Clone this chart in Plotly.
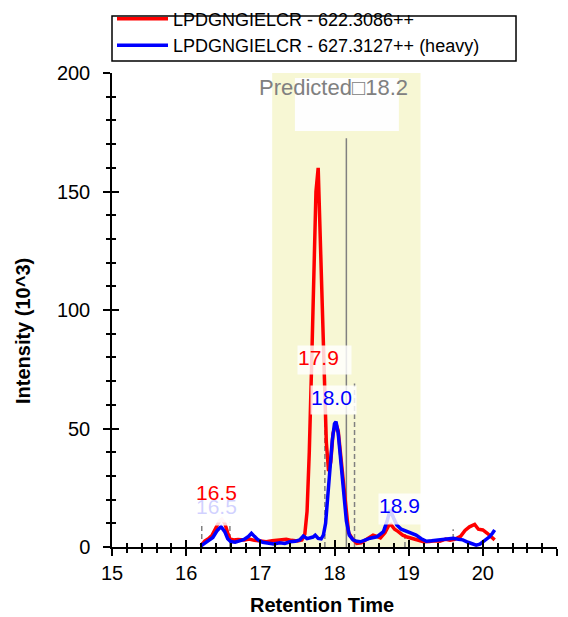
import plotly.graph_objects as go

# ---------------- data ----------------
light_name = "LPDGNGIELCR - 622.3086++"
heavy_name = "LPDGNGIELCR - 627.3127++ (heavy)"

red_x = [16.20, 16.25, 16.30, 16.35, 16.40, 16.45, 16.48, 16.52, 16.56, 16.59,
         16.64, 16.70, 16.78, 16.85, 16.92, 17.00, 17.08, 17.16, 17.25, 17.35,
         17.42, 17.50, 17.56, 17.60, 17.63, 17.66, 17.69, 17.72, 17.75, 17.78,
         17.80, 17.83, 17.86, 17.89, 17.92, 17.95, 17.98, 18.02, 18.05, 18.08,
         18.12, 18.16, 18.19, 18.24, 18.30, 18.36, 18.42, 18.48, 18.52, 18.57,
         18.62, 18.68, 18.73, 18.76, 18.81, 18.86, 18.92, 18.98, 19.05, 19.12,
         19.20, 19.28, 19.35, 19.42, 19.50, 19.56, 19.62, 19.70, 19.76, 19.82,
         19.89, 19.94, 20.00, 20.06, 20.11, 20.16]
red_y = [0.5, 2.5, 3.5, 5.0, 8.0, 11.0, 11.7, 10.0, 6.0, 3.4,
         3.0, 3.2, 3.0, 3.4, 2.8, 2.5, 2.2, 2.6, 3.0, 3.3,
         2.8, 2.5, 3.0, 5.5, 15.0, 40.0, 75.0, 115.0, 150.0, 160.0,
         140.0, 105.0, 72.0, 44.0, 32.0, 36.0, 48.0, 52.0, 49.0, 40.0,
         27.0, 14.0, 6.0, 3.5, 1.5, 1.8, 3.0, 4.0, 5.0, 4.5,
         3.8, 6.0, 9.0, 9.5, 7.5, 6.5, 5.0, 4.2, 3.5, 3.0,
         2.2, 2.3, 2.6, 2.4, 3.3, 2.9, 3.2, 4.5, 7.0, 8.5,
         9.5, 7.5, 7.2, 5.8, 4.5, 3.0]

blue_x = [16.20, 16.25, 16.30, 16.36, 16.42, 16.47, 16.52, 16.56, 16.60, 16.66,
          16.72, 16.78, 16.84, 16.88, 16.92, 16.97, 17.03, 17.10, 17.18, 17.26,
          17.33, 17.40, 17.47, 17.53, 17.58, 17.63, 17.67, 17.71, 17.74, 17.78,
          17.82, 17.85, 17.88, 17.91, 17.94, 17.97, 18.00, 18.02, 18.05, 18.08,
          18.12, 18.16, 18.20, 18.25, 18.30, 18.35, 18.42, 18.48, 18.57, 18.66,
          18.71, 18.75, 18.80, 18.84, 18.90, 18.97, 19.04, 19.10, 19.17, 19.24,
          19.31, 19.38, 19.45, 19.52, 19.60, 19.67, 19.73, 19.80, 19.85, 19.91,
          19.96, 20.00, 20.05, 20.09, 20.13, 20.16]
blue_y = [0.5, 1.5, 2.5, 4.0, 7.0, 8.6, 6.5, 3.5, 2.3, 2.0,
          2.6, 3.2, 4.5, 5.8, 4.5, 3.0, 2.0, 1.5, 1.3, 1.8,
          1.5, 2.2, 2.4, 3.0, 4.6, 3.5, 3.7, 4.2, 5.0, 3.6,
          3.4, 5.0, 10.0, 22.0, 34.0, 45.0, 52.0, 52.9, 48.0, 38.0,
          24.0, 11.0, 5.0, 3.0, 2.4, 2.2, 3.0, 3.7, 4.3, 6.5,
          11.0, 15.6, 12.0, 9.3, 7.5, 6.5, 5.8, 5.0, 3.5, 2.4,
          2.6, 2.8, 3.2, 3.5, 3.7, 3.3, 3.0, 2.0, 1.3, 0.8,
          1.2, 2.2, 3.0, 4.3, 5.8, 7.2]

predicted_rt = 18.16
predicted_window = 1.0
predicted_label = "Predicted\u25a118.2"

# peak boundaries (x, height)
boundary_x = [16.21, 16.59, 17.87, 18.27, 18.95, 19.60]
boundary_h = [11.4, 11.4, 55.0, 69.0, 6.5, 7.5]

# peak labels: text, colour, left x, top y
peak_text = ["16.5", "16.5", "17.9", "18.0", "18.9"]
peak_color = ["blue", "red", "red", "blue", "blue"]
peak_left = [16.12, 16.12, 17.49, 17.67, 18.585]
peak_top = [22.4, 28.3, 85.2, 68.4, 22.8]
peak_w = [45, 45, 53, 45, 44]
peak_h = [30, 41, 28, 28, 30]

x_range = [15, 21]
y_range = [0, 200]

FONT = "Liberation Sans, Arial, sans-serif"
GRAY = "#808080"

fig = go.Figure()
fig.add_trace(go.Scatter(x=red_x, y=red_y, mode="lines", name=light_name,
                         line=dict(color="red", width=3.5)))
fig.add_trace(go.Scatter(x=blue_x, y=blue_y, mode="lines", name=heavy_name,
                         line=dict(color="blue", width=3.5)))
# dummy trace to activate overlay axes
fig.add_trace(go.Scatter(x=[None], y=[None], xaxis="x2", yaxis="y2",
                         showlegend=False, hoverinfo="skip"))

shapes = []
shapes.append(dict(type="rect", xref="x", yref="y",
                   x0=predicted_rt - predicted_window, x1=predicted_rt + predicted_window,
                   y0=y_range[0], y1=y_range[1], fillcolor="#F7F7D4",
                   line=dict(width=0), layer="below"))
shapes.append(dict(type="rect", xref="x", yref="y", x0=17.466, x1=18.868,
                   y0=175.5, y1=197.9, fillcolor="#FEFEFE", line=dict(width=0),
                   layer="below"))
shapes.append(dict(type="line", xref="x", yref="y", x0=predicted_rt, x1=predicted_rt,
                   y0=0, y1=172.5, line=dict(color=GRAY, width=1.5), layer="below"))
for bx, bh in zip(boundary_x, boundary_h):
    shapes.append(dict(type="line", xref="x", yref="y", x0=bx, x1=bx, y0=0, y1=bh,
                       line=dict(color=GRAY, width=1.5, dash="5px,3px"), layer="below"))
# legend frame
shapes.append(dict(type="rect", xref="paper", yref="paper", x0=0.0, x1=0.9079,
                   y0=1.0253, y1=1.1203, line=dict(color="black", width=1.5),
                   fillcolor="rgba(0,0,0,0)"))

annotations = []
annotations.append(dict(text=predicted_label, xref="x", yref="y", x=17.985, y=193.7,
                        showarrow=False, font=dict(family=FONT, size=22, color=GRAY),
                        xanchor="center", yanchor="middle"))
for t, c, lx, ty, w, h in zip(peak_text, peak_color, peak_left, peak_top, peak_w, peak_h):
    annotations.append(dict(text=t, xref="x", yref="y", x=lx, y=ty, showarrow=False,
                            xanchor="left", yanchor="top", align="left", valign="top",
                            width=w, height=h, borderpad=0,
                            bgcolor="rgba(255,255,255,0.82)",
                            font=dict(family=FONT, size=21, color=c)))
annotations.append(dict(text="<b>Retention Time</b>", xref="paper", yref="paper",
                        x=0.4708, y=-0.1225, showarrow=False, xanchor="center",
                        yanchor="middle", font=dict(family=FONT, size=20, color="black")))
annotations.append(dict(text="<b>Intensity (10^3)</b>", xref="paper", yref="paper",
                        x=-0.2, y=0.4557, showarrow=False, textangle=-90,
                        xanchor="center", yanchor="middle",
                        font=dict(family=FONT, size=20, color="black")))

axis_common = dict(showgrid=False, zeroline=False, showline=True, linecolor="black",
                   linewidth=1.5, ticks="outside", ticklen=7, tickwidth=1.5,
                   tickcolor="black",
                   tickfont=dict(family=FONT, size=20, color="black"))

fig.update_layout(
    width=568, height=617,
    margin=dict(l=112, r=11, t=73, b=70, autoexpand=False),
    paper_bgcolor="white", plot_bgcolor="white",
    font=dict(family=FONT, color="black"),
    showlegend=True,
    legend=dict(x=0.0, y=0.999, xref="paper", yref="container",
                xanchor="left", yanchor="top",
                bgcolor="rgba(0,0,0,0)", borderwidth=0,
                font=dict(family=FONT, size=18, color="black"),
                tracegroupgap=0, itemwidth=51),
    xaxis=dict(range=x_range, tick0=15, dtick=1, ticklabelstandoff=0,
               minor=dict(dtick=0.2, ticks="outside", ticklen=4, tickwidth=1.5,
                          tickcolor="black"),
               **axis_common),
    yaxis=dict(range=y_range, tick0=0, dtick=50, ticklabelstandoff=9,
               minor=dict(dtick=10, ticks="outside", ticklen=4, tickwidth=1.5,
                          tickcolor="black"),
               **axis_common),
    xaxis2=dict(range=x_range, overlaying="x", anchor="y2", side="bottom",
                showgrid=False, zeroline=False, showline=False, showticklabels=False,
                ticks="inside", ticklen=7, tickwidth=1.5, tickcolor="black",
                tick0=15, dtick=1,
                minor=dict(dtick=0.2, ticks="inside", ticklen=4, tickwidth=1.5,
                           tickcolor="black")),
    yaxis2=dict(range=y_range, overlaying="y", anchor="x2", side="left",
                showgrid=False, zeroline=False, showline=False, showticklabels=False,
                ticks="inside", ticklen=7, tickwidth=1.5, tickcolor="black",
                tick0=0, dtick=50,
                minor=dict(dtick=10, ticks="inside", ticklen=4, tickwidth=1.5,
                           tickcolor="black")),
    shapes=shapes,
    annotations=annotations,
)

fig.write_html("out.html")
